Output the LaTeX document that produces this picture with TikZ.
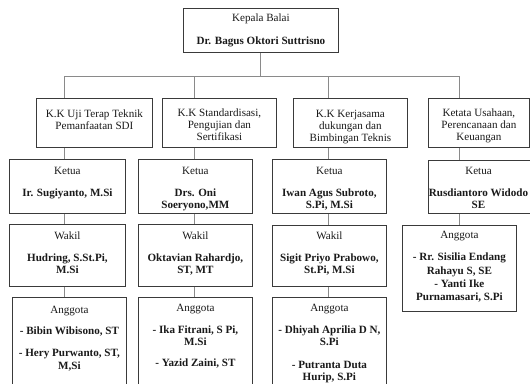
\documentclass[tikz,border=0pt]{standalone}
\usepackage{fontspec}
\setmainfont{Liberation Serif}
\definecolor{boxcol}{HTML}{3A3A3A}
\definecolor{linecol}{HTML}{8A8A8A}
\definecolor{txtcol}{HTML}{1A1A1A}
\begin{document}
\begin{tikzpicture}[x=1pt,y=-1pt,
  box/.style={draw=boxcol, line width=0.8pt, fill=white, inner sep=0pt, anchor=north west, rectangle},
  txt/.style={anchor=north, inner sep=0pt, align=center, font=\fontsize{11.1}{12}\selectfont, text=txtcol},
  conn/.style={draw=linecol, line width=1pt}]
\useasboundingbox (0,0) rectangle (530,383);
\clip (0,0) rectangle (530,383);
% coordinates of the connector columns
\coordinate (c1) at (64,0);
\coordinate (c2) at (194,0);
\coordinate (c3) at (328,0);
\coordinate (c4) at (459,0);
\coordinate (bus) at (0,76);
% boxes
\node[box, minimum width=155pt, minimum height=44pt] (top) at (183,8) {};
\node[box, minimum width=116pt, minimum height=49pt] (l1a) at (36,98) {};
\node[box, minimum width=114pt, minimum height=49pt] (l1b) at (162,98) {};
\node[box, minimum width=114pt, minimum height=49pt] (l1c) at (293,98) {};
\node[box, minimum width=101pt, minimum height=49pt] (l1d) at (428,98) {};
\node[box, minimum width=116pt, minimum height=54pt] (ka) at (9,159) {};
\node[box, minimum width=114pt, minimum height=54pt] (kb) at (138,159) {};
\node[box, minimum width=114pt, minimum height=54pt] (kc) at (272,159) {};
\node[box, minimum width=116pt, minimum height=53pt] (kd) at (428,160) {};
\node[box, minimum width=116pt, minimum height=62pt] (wa) at (9,224) {};
\node[box, minimum width=114pt, minimum height=62pt] (wb) at (138,224) {};
\node[box, minimum width=114pt, minimum height=61pt] (wc) at (272,225) {};
\node[box, minimum width=114pt, minimum height=86pt] (ad) at (402,225) {};
\node[box, minimum width=114pt, minimum height=100pt] (aa) at (12,297) {};
\node[box, minimum width=114pt, minimum height=100pt] (ab) at (138,297) {};
\node[box, minimum width=114pt, minimum height=100pt] (ac) at (272,297) {};
% connectors
\draw[conn] (top.south) -- (top.south |- bus);
\draw[conn] (c1 |- bus) -- (c4 |- bus);
\draw[conn] (c1 |- bus) -- (c1 |- l1a.north);
\draw[conn] (c2 |- bus) -- (c2 |- l1b.north);
\draw[conn] (c3 |- bus) -- (c3 |- l1c.north);
\draw[conn] (c4 |- bus) -- (c4 |- l1d.north);
\draw[conn] (c1 |- l1a.south) -- (c1 |- ka.north);
\draw[conn] (c2 |- l1b.south) -- (c2 |- kb.north);
\draw[conn] (c3 |- l1c.south) -- (c3 |- kc.north);
\draw[conn] (c4 |- l1d.south) -- (c4 |- kd.north);
\draw[conn] (c1 |- ka.south) -- (c1 |- wa.north);
\draw[conn] (c2 |- kb.south) -- (c2 |- wb.north);
\draw[conn] (c3 |- kc.south) -- (c3 |- wc.north);
\draw[conn] (c4 |- kd.south) -- (c4 |- ad.north);
\draw[conn] (c1 |- wa.south) -- (c1 |- aa.north);
\draw[conn] (c2 |- wb.south) -- (c2 |- ab.north);
\draw[conn] (c3 |- wc.south) -- (c3 |- ac.north);
% texts
\node[txt] (ttop) at (top.north |- 0,13.2) {\strut Kepala Balai\\[11pt]\textbf{Dr. Bagus Oktori Suttrisno}};
\node[txt] (tl1a) at (l1a.north |- 0,108.7) {\strut K.K Uji Terap Teknik\\Pemanfaatan SDI};
\node[txt] (tl1b) at (l1b.north |- 0,108.2) {\strut K.K Standardisasi,\\Pengujian dan\\Sertifikasi};
\node[txt] (tl1c) at (l1c.north |- 0,108.7) {\strut K.K Kerjasama\\dukungan dan\\Bimbingan Teknis};
\node[txt] (tl1d) at (l1d.north |- 0,108.2) {\strut Ketata Usahaan,\\Perencanaan dan\\Keuangan};
\node[txt] (tka) at (ka.north |- 0,166.2) {\strut Ketua\\[10pt]\textbf{Ir. Sugiyanto, M.Si}};
\node[txt] (tkb) at (kb.north |- 0,166.2) {\strut Ketua\\[10pt]\textbf{Drs. Oni}\\\textbf{Soeryono,MM}};
\node[txt] (tkc) at (kc.north |- 0,166.2) {\strut Ketua\\[10pt]\textbf{Iwan Agus Subroto,}\\\textbf{S.Pi, M.Si}};
\node[txt] (tkd) at (478.5,166.2) {\strut Ketua\\[10pt]\textbf{Rusdiantoro Widodo}\\\textbf{SE}};
\node[txt] (twa) at (wa.north |- 0,231.2) {\strut Wakil\\[10pt]\textbf{Hudring, S.St.Pi,}\\\textbf{M.Si}};
\node[txt] (twb) at (wb.north |- 0,231.2) {\strut Wakil\\[10pt]\textbf{Oktavian Rahardjo,}\\\textbf{ST, MT}};
\node[txt] (twc) at (wc.north |- 0,231.2) {\strut Wakil\\[10pt]\textbf{Sigit Priyo Prabowo,}\\\textbf{St.Pi, M.Si}};
\node[txt] (tad) at (ad.north |- 0,230.2) {\strut Anggota\\[10pt]\textbf{- Rr. Sisilia Endang}\\[2pt]\textbf{Rahayu S, SE}\\[1pt]\textbf{- Yanti Ike}\\[1pt]\textbf{Purnamasari, S.Pi}};
\node[txt] (taa) at (aa.north |- 0,305.2) {\strut Anggota\\[9pt]\textbf{- Bibin Wibisono, ST}\\[10pt]\textbf{- Hery Purwanto, ST,}\\[1pt]\textbf{M,Si}};
\node[txt] (tab) at (ab.north |- 0,303.2) {\strut Anggota\\[10pt]\textbf{- Ika Fitrani, S Pi,}\\\textbf{M.Si}\\[9pt]\textbf{- Yazid Zaini, ST}};
\node[txt] (tac) at (ac.north |- 0,303.2) {\strut Anggota\\[10pt]\textbf{- Dhiyah Aprilia D N,}\\\textbf{S.Pi}\\[11pt]\textbf{- Putranta Duta}\\\textbf{Hurip, S.Pi}};
\end{tikzpicture}
\end{document}
